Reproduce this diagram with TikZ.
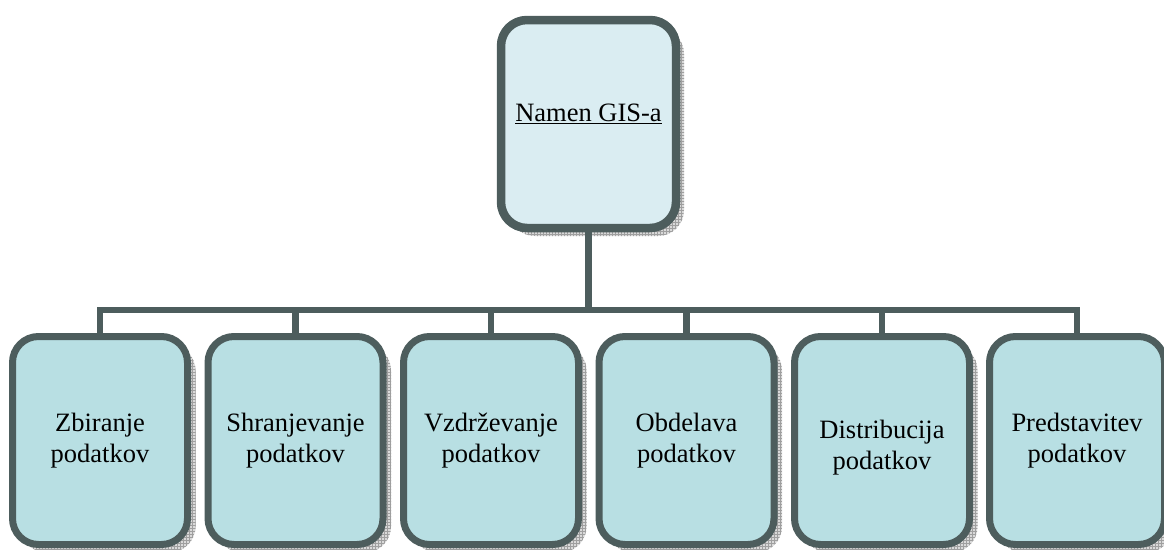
\documentclass[tikz,border=0pt]{standalone}
\usepackage{fontspec}
\setmainfont{Liberation Serif}
\usetikzlibrary{patterns,shadows}
\definecolor{bordc}{HTML}{4D5D5D}
\definecolor{topfill}{HTML}{DAEDF2}
\definecolor{botfill}{HTML}{B8DFE3}
\begin{document}
\begin{tikzpicture}[x=1pt,y=-1pt,
  boxbase/.style={rectangle,draw=bordc,rounded corners=26pt,minimum width=175pt,minimum height=208pt,
    general shadow={shadow xshift=8pt,shadow yshift=-8pt,fill=gray!30},
    general shadow={shadow xshift=8pt,shadow yshift=-8pt,pattern=grid,pattern color=gray!75}},
  topbox/.style={boxbase,fill=topfill,line width=8.5pt},
  botbox/.style={boxbase,fill=botfill,line width=7pt},
  lbl/.style={align=center,font=\fontsize{26.5}{31}\selectfont,text=black},
  conn/.style={draw=bordc,line width=6.5pt,line join=miter}
]
\useasboundingbox (0,0) rectangle (1164,549);
\node[topbox] (top) at (588.5,124) {};
\node[lbl] (ttop) at (588.5,114) {\underline{Namen GIS-a}};
\coordinate (bar) at (0,310);
\node[botbox] (b1) at (100,440.5) {};
\node[botbox] (b2) at (295.5,440.5) {};
\node[botbox] (b3) at (491,440.5) {};
\node[botbox] (b4) at (686.5,440.5) {};
\node[botbox] (b5) at (882,440.5) {};
\node[botbox] (b6) at (1077,440.5) {};
\node[lbl] (t1) at (b1) {Zbiranje\\podatkov};
\node[lbl] (t2) at (b2) {Shranjevanje\\podatkov};
\node[lbl] (t3) at (b3) {Vzdrževanje\\podatkov};
\node[lbl] (t4) at (b4) {Obdelava\\podatkov};
\node[lbl] (t5) at ([yshift=-7pt]b5.center) {Distribucija\\podatkov};
\node[lbl] (t6) at (b6) {Predstavitev\\podatkov};
\draw[conn] (top.south) -- (top.south |- bar);
\draw[conn] (b1.north) -- (b1.north |- bar) -- (b6.north |- bar) -- (b6.north);
\foreach \i in {2,3,4,5}{\draw[conn] (b\i.north) -- (b\i.north |- bar);}
\end{tikzpicture}
\end{document}
